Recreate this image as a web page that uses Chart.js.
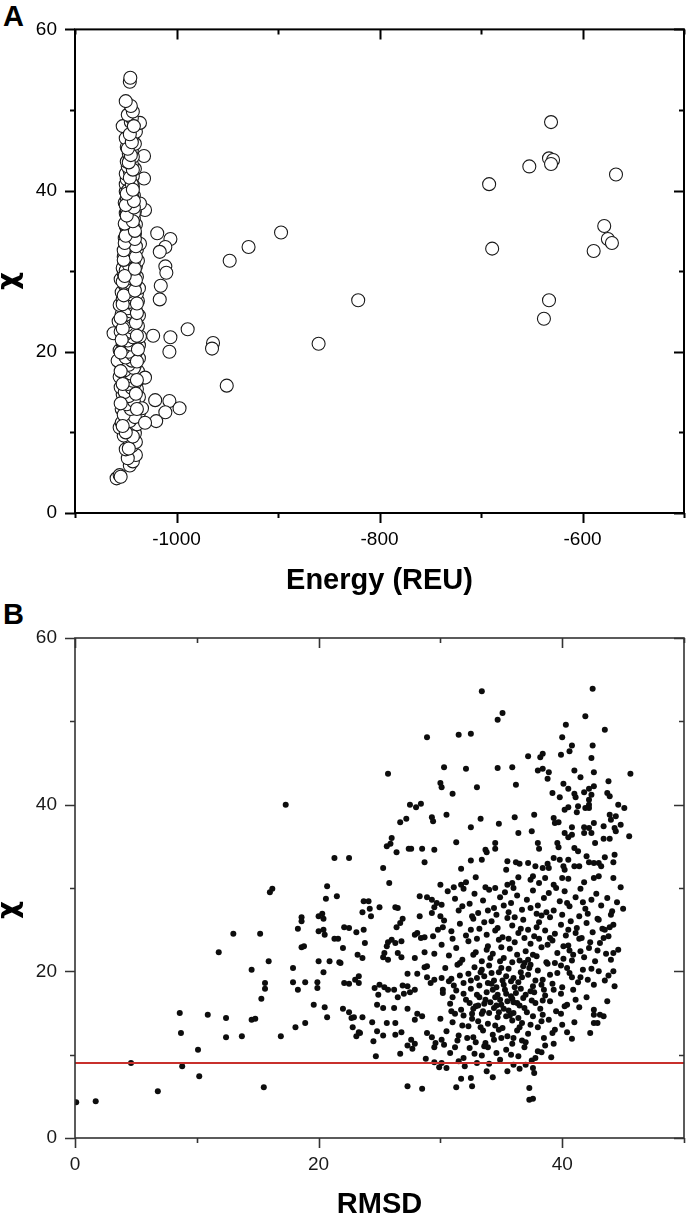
<!DOCTYPE html>
<html>
<head>
<meta charset="utf-8">
<script src="https://cdn.jsdelivr.net/npm/chart.js@4.4.1/dist/chart.umd.min.js"></script>
<style>
  body { margin: 0; background: #fff; width: 699px; height: 1218px; position: relative; overflow: hidden; }
  .panel { position: absolute; left: 0; }
  .tag { position: absolute; left: 3px; font: bold 29px "Liberation Sans", Arial, sans-serif; line-height: 29px; color: #000; }
</style>
</head>
<body>
<div class="tag" style="top:2px">A</div>
<div class="tag" style="top:600px">B</div>
<canvas id="chartA" class="panel" style="top:0" width="699" height="600"></canvas>
<canvas id="chartB" class="panel" style="top:600px" width="699" height="618"></canvas>
<script>
// panel A: energy (REU) vs chi, main cluster near -1045
const energyCluster = [
  [-1059,4.3],[-1056,4.7],[-1055,4.5],[-1046,5.9],[-1043,6.4],[-1040,7.2],[-1048,6.8],[-1050,7.9],[-1044,8.3],[-1040,8.8],
  [-1047,9.2],[-1052,9.6],[-1041,9.9],[-1049,10.3],[-1056,10.6],[-1054,11.2],[-1045,10.8],[-1039,11.0],[-1050,11.6],[-1042,12.1],
  [-1037,12.4],[-1048,12.6],[-1054,12.9],[-1044,13.2],[-1040,13.6],[-1051,13.9],[-1046,14.2],[-1037,14.4],[-1053,14.7],[-1043,14.9],
  [-1049,15.2],[-1039,15.4],[-1055,15.6],[-1045,15.8],[-1041,16.1],[-1052,16.3],[-1047,16.6],[-1036,16.7],[-1056,16.9],[-1043,17.1],
  [-1050,17.4],[-1038,17.6],[-1046,17.8],[-1054,18.1],[-1041,18.3],[-1048,18.6],[-1058,18.9],[-1044,19.0],[-1037,19.2],[-1051,19.5],
  [-1046,19.7],[-1040,19.9],[-1056,20.2],[-1049,20.4],[-1043,20.6],[-1037,20.8],[-1053,21.0],[-1046,21.2],[-1040,21.5],[-1050,21.7],
  [-1036,21.9],[-1062,22.3],[-1044,22.1],[-1055,22.5],[-1048,22.7],[-1041,22.9],[-1038,23.2],[-1052,23.4],[-1045,23.6],[-1057,23.8],
  [-1042,24.0],[-1049,24.3],[-1037,24.5],[-1054,24.7],[-1046,24.9],[-1040,25.1],[-1051,25.4],[-1044,25.6],[-1056,25.8],[-1048,26.0],
  [-1038,26.3],[-1053,26.5],[-1042,26.7],[-1046,27.0],[-1039,27.2],[-1054,27.4],[-1049,27.6],[-1037,27.9],[-1044,28.1],[-1051,28.3],
  [-1041,28.6],[-1047,28.8],[-1055,29.0],[-1039,29.3],[-1045,29.5],[-1052,29.7],[-1042,29.9],[-1048,30.2],[-1053,30.4],[-1040,30.6],
  [-1044,30.9],[-1050,31.1],[-1038,31.3],[-1046,31.5],[-1052,31.8],[-1041,32.0],[-1048,32.2],[-1044,32.5],[-1039,32.7],[-1050,32.9],
  [-1046,33.2],[-1036,33.4],[-1049,33.6],[-1042,33.8],[-1051,34.1],[-1045,34.3],[-1041,34.6],[-1049,34.8],[-1047,35.1],[-1043,35.3],
  [-1050,35.6],[-1040,35.8],[-1046,36.1],[-1049,36.4],[-1042,36.6],[-1031,37.6],[-1045,36.9],[-1050,37.2],[-1041,37.4],[-1047,37.7],
  [-1043,38.0],[-1036,38.4],[-1051,38.5],[-1046,38.8],[-1049,39.1],[-1042,39.4],[-1044,39.7],[-1050,39.9],[-1047,40.2],[-1043,40.5],
  [-1050,40.8],[-1045,41.1],[-1032,41.5],[-1049,41.4],[-1043,41.8],[-1050,42.1],[-1046,42.4],[-1041,42.7],[-1048,43.0],[-1044,43.3],
  [-1049,43.6],[-1032,44.3],[-1046,43.9],[-1043,44.2],[-1047,44.6],[-1044,45.0],[-1049,45.4],[-1041,45.8],[-1046,46.1],[-1050,46.5],
  [-1043,46.9],[-1040,47.3],[-1047,47.6],[-1053,48.0],[-1036,48.4],[-1045,48.5],[-1044,49.0],[-1048,49.4],[-1043,49.8],[-1045,50.5],
  [-1050,51.1],[-1046,53.5],[-1045.5,54.0],
  [-1047,8.0],[-1043,9.5],[-1050,10.0],[-1046,11.4],[-1041,11.9],[-1052,12.2],[-1045,12.9],[-1049,13.5],[-1042,13.9],[-1047,14.5],
  [-1051,15.0],[-1044,15.5],[-1048,16.0],[-1043,16.4],[-1049,16.9],[-1045,17.3],[-1051,17.7],[-1042,18.0],[-1047,18.4],[-1044,18.9],
  [-1050,19.3],[-1043,19.6],[-1047,20.0],[-1052,20.5],[-1045,20.9],[-1048,21.4],[-1043,21.8],[-1050,22.2],[-1046,22.5],[-1044,23.0],
  [-1049,23.3],[-1047,23.8],[-1043,24.2],[-1050,24.6],[-1045,25.0],[-1048,25.4],[-1042,25.8],[-1046,26.2],[-1050,26.6],[-1044,27.1],
  [-1047,27.5],[-1043,27.8],[-1049,28.2],[-1045,28.5],[-1048,29.1],[-1043,29.4],[-1046,29.8],[-1050,30.1],[-1044,30.5],[-1047,30.8],
  [-1042,31.2],[-1049,31.6],[-1045,31.9],[-1043,32.3],[-1047,32.6],[-1050,33.0],[-1044,33.4],[-1047,33.9],[-1043,34.2],[-1049,34.5],
  [-1045,35.0],[-1042,35.4],[-1048,35.8],[-1044,36.3],[-1046,36.8],[-1042,37.2],[-1049,37.6],[-1045,38.1],[-1047,38.6],[-1043,39.0],
  [-1046,39.5],[-1048,40.0],[-1044,40.8],[-1046,41.6],[-1043,42.6],[-1047,43.5],[-1045,44.4],[-1048,45.2],[-1044,46.0],[-1046,47.0],
  [-1042,48.0],[-1031,16.8],[-1034,13.0],
  [-1053,10.8],[-1039,12.9],[-1055,13.6],[-1040,14.8],[-1053,16.0],[-1039,16.5],[-1055,17.6],[-1039,18.8],[-1055,19.9],[-1038,20.3],
  [-1054,21.5],[-1039,22.0],[-1053,22.9],[-1040,23.6],[-1055,24.2],[-1039,24.8],[-1053,25.9],[-1039,26.0],[-1052,27.0],[-1041,27.6],
  [-1053,28.7],[-1040,28.9],[-1051,29.4],[-1041,30.3],[-1052,31.4],[-1040,31.8],[-1052,32.6],[-1040,33.1],[-1051,33.5],[-1041,34.0],
  [-1050,34.4],[-1041,35.0],[-1051,35.9],[-1043,36.2],[-1049,36.9],[-1042,37.9],[-1050,38.2],[-1042,38.7],[-1049,39.6],[-1043,40.1]
];
const energyOutliers = [
  [-1019,34.7],[-1006,34.0],[-1011,33.0],[-1016.5,32.4],[-1011,30.6],[-1010,29.8],[-1015.5,28.2],[-1016.5,26.5],
  [-947.6,31.3],[-929,33.0],[-897,34.8],[-1023,22.0],[-1006,21.8],[-1007,20.0],[-989,22.8],[-964,21.1],[-965,20.4],
  [-860,21.0],[-950.5,15.8],[-1021,14.0],[-1007,13.9],[-997,13.0],[-1011,12.5],[-1020,11.4],[-1031,11.2],
  [-631,48.5],[-633,44.0],[-629,43.8],[-631,43.3],[-652.4,43.0],[-567,42.0],[-692,40.8],[-578.6,35.6],[-575,34.0],
  [-571,33.5],[-589,32.5],[-689,32.8],[-821,26.4],[-633,26.4],[-638,24.1]
];
const energyLabels = [-1000, -800, -600];

// panel B: RMSD vs chi
const rmsdSparse = [
  [0.1,4.3],[1.7,4.4],[4.6,9.0],[6.8,5.6],[8.6,15.0],[8.7,12.6],[8.8,8.6],[10.1,10.6],[10.2,7.4],[10.9,14.8],
  [11.8,22.3],[12.4,14.4],[12.4,12.1],[13.0,24.5],[13.7,12.2],[14.5,20.2],[14.5,14.2],[14.8,14.3],[15.2,24.5],[15.3,16.7],
  [15.5,6.1],[15.6,18.6],[15.6,17.9],[15.9,21.2],[16.0,29.5],[16.2,29.9],[16.9,12.2],[17.3,40.0],[17.9,20.4],[17.9,18.7],
  [18.1,13.3],[18.3,25.1],[18.6,26.5],[18.6,26.0],[18.3,17.8],[18.6,22.9],[18.8,23.0],[18.9,18.7],[18.9,13.8],[19.6,16.0],
  [19.9,18.7],[19.9,18.0],[20.0,21.2],[20.0,26.6],[20.3,26.9],[20.4,26.3],[20.0,24.8],[20.4,25.0],[20.5,24.4],[20.4,19.9],
  [20.5,15.7],[20.7,14.5],[20.7,30.2],[20.6,28.7],[20.9,21.2],[21.3,33.6],[21.5,29.0],[21.3,23.9],[21.6,23.9],[21.8,21.0],
  [22.0,22.8],[22.0,15.5],[22.1,25.3],[22.1,18.6]
];
const rmsdMiddle = [
  [22.5,33.6],[25.3,32.4],[25.8,30.6],[28.9,48.1],[25.7,43.7],[30.0,42.6],[30.1,42.1],[30.3,44.5],[27.5,40.0],[28.0,39.7],
  [28.4,40.1],[26.7,37.9],[27.2,38.3],[29.3,38.5],[29.4,38.0],[26.0,36.0],[25.6,35.0],[25.9,35.3],[26.4,34.3],[27.4,34.7],
  [27.6,34.7],[28.5,34.7],[29.5,34.6],[28.7,33.1],[23.7,28.4],[24.1,28.4],[25.0,27.7],[23.6,27.1],[24.2,27.5],[24.3,26.6],
  [26.3,27.7],[26.5,27.6],[28.3,29.0],[28.9,28.9],[29.3,28.6],[29.7,28.2],[30.1,28.0],[29.5,27.7],[29.3,27.0],[30.0,26.6],
  [28.3,26.6],[26.9,26.3],[26.7,25.8],[26.4,25.3],[22.5,25.2],[23.1,24.7],[23.7,25.0],[23.8,23.4],[25.7,23.5],[26.0,23.8],
  [26.3,23.4],[26.8,23.6],[25.6,23.0],[27.9,24.4],[28.1,24.6],[28.4,24.0],[28.7,24.1],[29.4,24.2],[29.8,25.0],[30.2,25.3],
  [23.2,22.0],[23.6,21.6],[25.4,22.2],[25.7,21.4],[25.3,21.7],[26.5,22.2],[26.8,21.7],[27.9,21.6],[28.7,22.3],[29.5,22.1],
  [21.7,21.1],[23.3,19.4],[23.0,19.0],[23.3,18.6],[22.5,18.5],[28.1,19.7],[28.7,20.5],[28.9,20.6],[27.3,19.7],[24.6,18.0],
  [25.0,18.4],[25.4,18.1],[25.7,17.8],[24.9,17.2],[26.2,17.8],[26.9,18.3],[27.3,18.2],[26.5,16.9],[27.0,17.3],[27.5,17.5],
  [27.9,17.8],[28.9,19.3],[29.2,18.6],[29.5,19.0],[30.1,19.2],[30.2,17.8],[22.5,15.1],[22.7,14.4],[22.8,13.3],[22.9,14.5],
  [23.6,14.5],[23.3,12.7],[23.1,12.2],[23.4,12.6],[24.8,16.0],[25.3,15.6],[26.2,15.6],[25.6,13.8],[26.3,13.8],[24.4,13.9],
  [24.8,12.8],[25.3,12.3],[26.3,12.4],[26.8,12.7],[24.5,11.6],[24.7,9.8],[26.7,10.1],[27.3,15.5],[27.9,14.2],[28.1,14.9],
  [28.5,14.6],[27.3,11.1],[27.7,10.7],[27.9,11.3],[27.6,11.8],[28.9,12.6],[29.3,12.1],[29.6,11.4],[29.5,10.9],[30.1,11.8],
  [28.8,9.5],[29.5,9.1],[29.9,8.5],[30.1,9.0],[27.3,6.2],[28.5,5.9]
];
const rmsdUpper = [
  [33.4,53.6],[42.5,53.9],[41.9,50.6],[34.7,50.2],[35.1,51.0],[43.5,49.0],[31.5,48.4],[32.5,48.5],[40.3,49.6],[40.0,48.1],
  [40.8,47.1],[40.6,46.4],[42.5,47.1],[37.2,45.8],[38.2,45.7],[38.4,46.1],[39.9,46.0],[42.4,45.6],[32.1,44.3],[34.7,44.4],
  [35.9,44.5],[38.0,44.1],[38.4,44.3],[38.9,43.9],[41.0,44.1],[42.6,43.9],[41.5,43.3],[38.8,43.1],[45.6,43.7],[33.0,42.1],
  [31.0,41.3],[36.2,42.4],[40.1,42.5],[40.5,41.9],[41.0,41.3],[41.1,40.9],[39.2,41.4],[39.8,40.9],[41.8,41.5],[42.2,41.9],
  [42.4,41.2],[42.6,42.2],[43.8,42.8],[43.7,41.4],[43.9,41.0],[42.2,40.6],[42.2,40.0],[41.9,39.6],[42.2,39.6],[40.5,39.7],
  [40.2,39.4],[41.3,39.8],[41.2,39.1],[44.6,40.0],[45.1,39.6],[30.5,38.8],[33.3,38.3],[36.1,38.5],[37.7,38.8],[39.3,38.4],
  [39.4,37.8],[39.7,37.9],[43.9,38.8],[44.4,38.6],[44.0,38.2],[32.5,37.3],[34.8,37.7],[36.4,36.6],[37.5,36.8],[40.8,37.3],
  [40.5,36.1],[40.2,36.6],[40.8,36.4],[41.8,37.3],[42.2,37.2],[42.6,37.8],[41.8,36.6],[42.4,36.6],[43.4,37.4],[44.3,37.2],
  [44.4,36.8],[44.8,37.6],[45.5,36.2],[31.3,35.5],[33.7,34.6],[33.8,34.3],[34.5,35.4],[34.5,34.7],[38.0,35.4],[38.1,34.7],
  [39.6,35.4],[39.7,34.9],[41.0,34.8],[41.3,34.4],[42.7,35.4],[43.4,35.9],[43.9,35.9],[44.3,34.0],[33.4,33.4],[32.5,33.3],
  [31.7,32.3],[35.5,33.2],[35.4,32.2],[36.2,33.1],[36.5,32.9],[37.2,33.0],[36.4,31.3],[37.8,32.6],[38.4,32.4],[38.8,32.9],
  [38.9,32.4],[39.3,33.6],[39.8,33.4],[40.1,32.6],[40.2,32.2],[40.5,33.4],[41.0,32.6],[41.4,32.6],[42.0,33.8],[42.2,33.1],
  [42.6,33.0],[43.0,33.0],[43.2,32.6],[43.5,33.7],[44.2,33.1],
  [30.0,30.4],[31.1,30.1],[31.7,30.4],[32.1,30.7],[32.9,31.3],[33.7,30.1],[34.5,30.0],[35.5,30.4],[35.9,30.6],[37.4,31.0],
  [37.6,31.4],[38.1,30.6],[38.6,31.2],[39.3,30.4],[40.0,31.2],[40.5,31.1],[41.8,30.7],[42.6,31.2],[43.0,31.4],[44.2,31.2],
  [44.8,30.1]
];
const rmsdDense = [
  [30.6,29.6],[31.2,28.7],[31.9,29.9],[32.4,28.1],[32.8,29.3],[33.5,28.5],[34.0,29.8],[34.4,27.6],[34.9,28.9],[35.3,29.5],
  [35.8,28.2],[36.3,29.1],[36.7,27.4],[37.1,28.6],[37.6,29.7],[38.0,27.9],[38.5,28.8],[38.9,29.4],[39.3,27.3],[39.8,28.4],
  [40.2,29.6],[40.6,27.8],[41.1,28.9],[41.5,29.9],[41.9,27.5],[42.4,28.6],[42.8,29.3],[43.2,27.9],[43.7,28.8],[44.1,27.2],
  [31.5,27.3],[33.1,27.0],[35.6,27.1],[37.9,26.9],[40.0,26.8],[42.1,26.9],[36.0,30.0],[39.5,30.0],
  [30.3,26.1],[30.9,24.8],[31.6,25.7],[32.1,24.3],[32.7,26.3],[33.2,25.1],[33.8,24.4],[34.2,26.0],[34.7,25.2],[35.1,24.1],
  [35.5,26.4],[35.9,25.5],[36.4,24.6],[36.8,26.2],[37.2,25.0],[37.7,24.2],[38.1,25.9],[38.6,24.9],[39.0,26.5],[39.4,24.5],
  [39.9,25.6],[40.3,24.3],[40.7,26.0],[41.2,25.2],[41.6,24.0],[42.0,25.8],[42.5,24.7],[42.9,26.3],[43.3,25.1],[43.8,24.2],
  [44.2,25.6],[36.6,25.1],[38.3,26.7],[40.5,25.0],[34.6,26.8],[41.4,26.6],
  [30.1,23.2],[30.7,21.9],[31.3,22.8],[31.8,21.4],[32.3,23.6],[32.9,22.3],[33.4,21.2],[33.9,23.0],[34.3,22.1],[34.8,23.8],
  [35.2,21.6],[35.7,22.7],[36.1,23.5],[36.5,21.3],[37.0,22.4],[37.4,23.3],[37.9,21.8],[38.3,22.9],[38.7,21.1],[39.2,23.7],
  [39.6,22.2],[40.1,21.5],[40.5,23.1],[40.9,22.0],[41.4,23.9],[41.8,21.7],[42.2,22.8],[42.7,21.2],[43.1,23.4],[43.6,22.1],
  [44.0,21.4],[44.6,22.6],[35.0,22.9],[36.9,21.0],[38.8,23.2],[40.8,21.3],[33.0,23.9],[37.6,22.0],
  [30.4,20.4],[30.9,19.1],[31.4,20.8],[31.9,18.6],[32.3,19.7],[32.8,20.5],[33.2,18.3],[33.6,19.4],[34.0,20.7],[34.4,18.9],
  [34.8,19.9],[35.2,18.4],[35.6,20.3],[36.0,19.2],[36.4,18.7],[36.8,20.6],[37.2,19.6],[37.6,18.2],[38.0,20.1],[38.4,19.0],
  [38.8,20.9],[39.2,18.5],[39.6,19.8],[40.0,18.1],[40.4,20.4],[40.8,19.3],[41.3,18.7],[41.7,20.2],[42.1,19.0],[42.6,18.4],
  [43.0,20.0],[43.5,18.9],[34.2,19.8],[35.4,19.4],[33.4,20.2],[36.6,19.9],[37.8,18.9],[34.6,18.1],[31.1,18.3],
  [30.2,17.4],[30.8,16.1],[31.3,17.7],[31.7,15.4],[32.1,16.6],[32.5,17.9],[32.9,15.8],[33.2,16.9],[33.5,15.2],[33.8,17.5],
  [34.1,16.3],[34.4,15.6],[34.7,17.2],[35.0,16.0],[35.3,17.8],[35.6,15.3],[35.9,16.7],[36.2,17.4],[36.5,15.9],[36.8,16.8],
  [37.1,15.1],[37.4,17.6],[37.8,16.2],[38.2,15.5],[38.6,17.1],[39.0,16.4],[39.5,15.2],[39.9,17.3],[40.4,16.0],[40.9,17.8],
  [41.4,15.7],[42.0,16.9],[42.6,15.4],[43.1,14.8],[34.0,15.0],[35.2,15.5],[36.0,15.0],[33.0,17.2],[34.9,16.6],[36.6,17.9],
  [37.5,16.5],[32.7,15.5],[35.8,17.0],[34.3,17.8],
  [30.0,14.3],[30.5,12.8],[31.0,13.9],[31.5,12.3],[31.9,14.7],[32.3,13.4],[32.7,12.1],[33.1,14.0],[33.5,12.9],[33.9,13.7],
  [34.3,12.4],[34.7,14.5],[35.1,13.2],[35.5,12.2],[35.9,14.1],[36.3,12.9],[36.7,13.8],[37.2,12.5],[37.6,14.6],[38.0,13.3],
  [38.5,12.0],[38.9,14.2],[39.4,13.0],[39.9,14.9],[40.4,12.7],[41.0,13.9],[31.2,14.9],[33.4,14.9],[34.8,13.0],[36.0,12.0],
  [30.3,11.2],[30.8,10.2],[31.4,11.7],[31.9,9.6],[32.4,10.8],[32.9,11.5],[33.4,9.9],[33.9,10.9],[34.4,11.8],[34.9,9.4],
  [35.4,10.6],[35.9,11.3],[36.4,9.8],[36.9,10.9],[37.5,9.3],[38.0,10.4],[38.6,11.1],[39.3,11.3],[39.1,9.7],[31.5,9.2],
  [33.0,9.0],[34.0,8.9],[36.0,8.8],[37.8,9.6],[40.8,11.9],[35.0,12.0],
  [31.3,6.1],[31.7,7.1],[32.5,7.2],[32.6,6.2],[33.8,8.0],[34.3,7.3],[35.5,8.0],[37.0,8.8],[37.6,8.4],[37.7,7.8],
  [37.3,6.0],[37.3,4.6],[37.6,4.7],[32.0,8.6],[36.5,8.3],[30.5,8.4],
  [44.2,22.2],[44.2,20.0],[42.6,14.8],[43.4,14.6],[42.6,13.8],[42.9,13.8],[44.0,26.8],[43.9,25.3],[43.5,25.0],[44.5,28.3],
  [45.0,27.5],[43.8,19.5],[44.3,18.2],[43.7,16.4],[42.3,12.6],
  [33.6,16.1],[34.5,16.9],[35.5,16.4],[36.3,16.2],[33.9,18.6],[35.1,18.9],[36.1,18.1],[37.0,17.2],[34.8,15.1],[35.7,14.7],
  [33.0,19.2],[34.1,21.6],[35.9,21.1],[37.3,20.4],[38.5,17.8],[32.6,14.3],[36.4,14.4],[38.4,14.8],[33.7,11.4],[36.7,11.7],
  [31.8,27.8],[32.6,26.6],[33.9,27.3],[35.2,27.9],[36.1,26.5],[37.4,27.6],[38.7,27.1],[40.4,28.2],[41.7,28.3],[43.0,26.2],
  [31.0,23.9],[32.5,25.0],[33.6,25.9],[34.5,24.9],[35.6,23.9],[36.9,24.0],[37.9,25.3],[39.0,24.0],[40.1,23.0],[41.1,24.6],
  [42.3,23.5],[43.4,24.0],[31.6,21.0],[32.7,22.0],[33.8,22.6],[34.9,21.2],[36.3,22.0],[37.2,21.4],[38.1,23.9],[39.4,21.0],
  [40.6,22.5],[41.5,22.4],[42.9,22.5],[30.7,18.8],[31.6,19.5],[32.5,18.9],[33.3,19.9],[34.2,18.5],[35.0,20.4],[35.8,18.8],
  [36.7,19.3],[37.4,20.8],[38.3,18.4],[39.0,19.6],[39.9,20.7],[40.6,19.8],[41.5,19.3],[42.4,20.3],[31.0,16.9],[31.9,17.3],
  [32.4,16.2],[33.1,15.9],[33.7,16.6],[34.6,15.9],[35.4,17.3],[36.0,16.3],[36.9,15.6],[37.7,17.5],[38.4,16.5],[39.3,17.8],
  [40.2,15.8],[41.1,16.6],[30.9,15.2],[31.8,13.5],[32.6,14.9],[33.3,13.3],[34.5,13.5],[35.4,14.6],[36.5,13.3],[37.4,13.6],
  [38.3,14.0],[39.2,12.6],[40.0,13.6],[31.2,10.9],[32.2,12.0],[33.6,11.0],[34.6,10.2],[35.8,10.0],[37.0,11.5],[38.3,10.3],
  [32.8,10.1]
];
const cutoffChi = 9;
const rmsdLabels = [0, 20, 40];
const chiLabels = [0, 20, 40, 60];

const FONT = '"Liberation Sans", Arial, sans-serif';

// frame, in/out tick marks and axis titles
const axesDeco = {
  id: 'axesDeco',
  afterDraw(chart, args, o) {
    const ctx = chart.ctx;
    const a = chart.chartArea;
    const x = chart.scales.x, y = chart.scales.y;
    ctx.save();
    ctx.strokeStyle = o.color;
    ctx.lineWidth = o.width;
    ctx.beginPath();
    x.ticks.forEach(function(t) {
      const px = Math.round(x.getPixelForValue(t.value)) + 0.5;
      const len = o.xLabels.includes(t.value) ? 10 : 5;
      ctx.moveTo(px, a.bottom); ctx.lineTo(px, a.bottom + len);
      ctx.moveTo(px, a.top); ctx.lineTo(px, a.top + len);
    });
    y.ticks.forEach(function(t) {
      const py = Math.round(y.getPixelForValue(t.value)) + 0.5;
      const len = chiLabels.includes(t.value) ? 10 : 5;
      ctx.moveTo(a.left, py); ctx.lineTo(a.left - len, py);
      ctx.moveTo(a.right, py); ctx.lineTo(a.right - len, py);
    });
    ctx.stroke();
    ctx.strokeRect(a.left, a.top, a.right - a.left, a.bottom - a.top);

    ctx.fillStyle = '#000';
    ctx.font = 'bold 29px ' + FONT;
    ctx.textAlign = 'center';
    ctx.textBaseline = 'alphabetic';
    ctx.fillText(o.xTitle, (a.left + a.right) / 2, o.xTitleY);
    ctx.font = 'bold 28px "DejaVu Sans", sans-serif';
    ctx.translate(17, o.yTitleY);
    ctx.rotate(-Math.PI / 2);
    ctx.fillText('χ', 0, 0);
    ctx.restore();
  }
};
Chart.register(axesDeco);

function scatterOptions(xMin, xMax, xStep, xLabels, pad, xHeight, deco, tickColor) {
  return {
    responsive: false,
    animation: false,
    layout: { padding: pad },
    plugins: { legend: { display: false }, tooltip: { enabled: false }, axesDeco: deco },
    scales: {
      x: {
        type: 'linear', min: xMin, max: xMax,
        border: { display: false },
        grid: { display: false, drawTicks: false },
        afterFit: function(s) { s.height = xHeight; },
        ticks: {
          stepSize: xStep, autoSkip: false, maxRotation: 0, padding: 15, color: tickColor,
          font: { family: FONT, size: 19 },
          callback: function(v) { return xLabels.includes(v) ? String(v) : ''; }
        }
      },
      y: {
        type: 'linear', min: 0, max: 60,
        border: { display: false },
        grid: { display: false, drawTicks: false },
        afterFit: function(s) { s.width = 75; },
        ticks: {
          stepSize: 10, autoSkip: false, padding: 18, color: tickColor,
          font: { family: FONT, size: 19 },
          callback: function(v) { return chiLabels.includes(v) ? String(v) : ''; }
        }
      }
    }
  };
}

const toXY = function(p) { return { x: p[0], y: p[1] }; };

new Chart(document.getElementById('chartA'), {
  type: 'scatter',
  data: {
    datasets: [{
      data: energyCluster.concat(energyOutliers).map(toXY),
      pointRadius: 6.5,
      pointBorderWidth: 1.1,
      pointBorderColor: '#1a1a1a',
      pointBackgroundColor: '#ffffff'
    }]
  },
  options: scatterOptions(-1100, -500, 100, energyLabels,
    { top: 13, right: 6, left: 0, bottom: 0 }, 87,
    { color: '#000', width: 2, xLabels: energyLabels, xTitle: 'Energy (REU)', xTitleY: 589, yTitleY: 281 },
    '#000')
});

new Chart(document.getElementById('chartB'), {
  type: 'scatter',
  data: {
    datasets: [{
      type: 'line',
      data: [{ x: 0, y: cutoffChi }, { x: 50, y: cutoffChi }],
      borderColor: '#c8302c',
      borderWidth: 2,
      pointRadius: 0,
      order: 0
    }, {
      data: rmsdSparse.concat(rmsdMiddle, rmsdUpper, rmsdDense).map(toXY),
      pointRadius: 3,
      pointBorderWidth: 0,
      pointBackgroundColor: '#0d0d0d',
      clip: 0,
      order: 1
    }]
  },
  options: scatterOptions(0, 50, 10, rmsdLabels,
    { top: 38, right: 5, left: 0, bottom: 0 }, 80,
    { color: '#333', width: 1.6, xLabels: rmsdLabels, xTitle: 'RMSD', xTitleY: 613, yTitleY: 310 },
    '#1a1a1a')
});
</script>
</body>
</html>
